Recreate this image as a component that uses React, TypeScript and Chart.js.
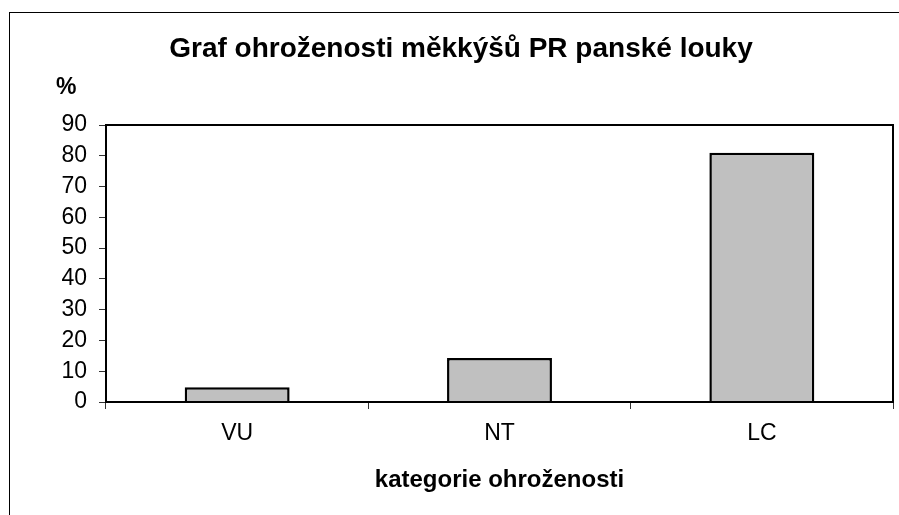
import React, { useEffect, useRef } from "react";
import { Chart, registerables } from "chart.js";

Chart.register(...registerables);

const categories = ["VU", "NT", "LC"];
const percentValues = [4.76, 14.29, 80.95];
const yMin = 0;
const yMax = 90;
const yStep = 10;
const titleText = "Graf ohroženosti měkkýšů PR panské louky";
const yAxisLabel = "%";
const xAxisLabel = "kategorie ohroženosti";

const FAMILY = "'Liberation Sans', Arial, Helvetica, sans-serif";

const decorPlugin = {
  id: "decor",
  beforeDraw(chart: any) {
    const ctx = chart.ctx;
    ctx.save();
    ctx.fillStyle = "#fff";
    ctx.fillRect(0, 0, chart.width, chart.height);
    ctx.strokeStyle = "#000";
    ctx.lineWidth = 1;
    ctx.strokeRect(9.5, 12.5, chart.width + 20, chart.height + 20);
    ctx.restore();
  },
  afterDraw(chart: any) {
    const ctx = chart.ctx;
    const a = chart.chartArea;
    ctx.save();
    ctx.strokeStyle = "#000";
    ctx.lineWidth = 2;
    ctx.strokeRect(a.left, a.top, a.right - a.left, a.bottom - a.top);
    ctx.fillStyle = "#000";
    ctx.textBaseline = "alphabetic";
    ctx.font = `bold 28px ${FAMILY}`;
    ctx.textAlign = "center";
    ctx.fillText(titleText, 461, 57);
    ctx.font = `bold 23px ${FAMILY}`;
    ctx.textAlign = "left";
    ctx.fillText(yAxisLabel, 56, 94);
    ctx.restore();
  },
};

export default function App() {
  const ref = useRef<HTMLCanvasElement | null>(null);
  useEffect(() => {
    if (!ref.current) return;
    const chart = new Chart(ref.current, {
      type: "bar",
      data: {
        labels: categories,
        datasets: [
          {
            data: percentValues,
            backgroundColor: "#c0c0c0",
            borderColor: "#000",
            borderWidth: 2.5,
            barPercentage: 0.4,
            categoryPercentage: 1,
          },
        ],
      },
      options: {
        responsive: false,
        maintainAspectRatio: false,
        animation: false,
        layout: { padding: { top: 125, left: 0, right: 6, bottom: 0 } },
        plugins: {
          legend: { display: false },
          tooltip: { enabled: false },
          title: { display: false },
        },
        scales: {
          x: {
            grid: {
              display: true,
              drawOnChartArea: false,
              drawTicks: true,
              tickLength: 7,
              color: "#333",
              lineWidth: 1,
              offset: true,
            },
            border: { display: false },
            ticks: { color: "#000", font: { size: 23, family: FAMILY }, padding: 11 },
            title: {
              display: true,
              text: xAxisLabel,
              color: "#000",
              font: { size: 24, weight: "bold", family: FAMILY },
              padding: { top: 0, bottom: 20 },
            },
            afterFit: (s: any) => {
              s.height = 113;
            },
          },
          y: {
            min: yMin,
            max: yMax,
            ticks: {
              stepSize: yStep,
              color: "#000",
              font: { size: 23, family: FAMILY },
              padding: 12,
            },
            grid: {
              display: true,
              drawOnChartArea: false,
              drawTicks: true,
              tickLength: 7,
              color: "#333",
              lineWidth: 1,
            },
            border: { display: false },
            afterFit: (s: any) => {
              s.width = 106;
            },
          },
        },
      },
      plugins: [decorPlugin],
    } as any);
    return () => chart.destroy();
  }, []);
  return (
    <div style={{ position: "absolute", left: 0, top: 0, width: 899, height: 515 }}>
      <canvas ref={ref} width={899} height={515} style={{ display: "block" }} />
    </div>
  );
}
